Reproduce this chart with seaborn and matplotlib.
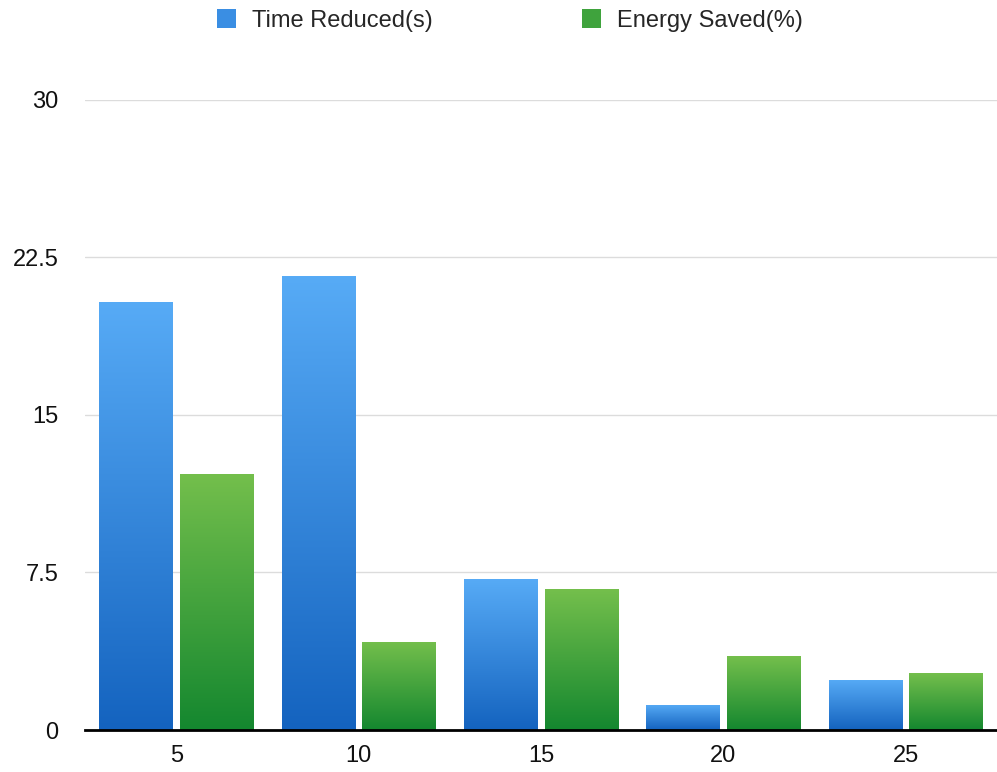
"""
Grouped bar chart: time reduced vs energy saved
"""
import numpy as np
import pandas as pd
import matplotlib
matplotlib.use("Agg")
import matplotlib.pyplot as plt
from matplotlib.colors import LinearSegmentedColormap
from matplotlib.patches import Patch
import seaborn as sns

# Data
groups = ["5", "10", "15", "20", "25"]
time_reduced = [20.4, 21.6, 7.2, 1.2, 2.4]
energy_saved = [12.2, 4.2, 6.7, 3.5, 2.7]
series = ["Time Reduced(s)", "Energy Saved(%)"]
yticks = [0, 7.5, 15, 22.5, 30]
ytick_labels = ["0", "7.5", "15", "22.5", "30"]

df = pd.DataFrame({
    "group": groups * 2,
    "value": time_reduced + energy_saved,
    "series": [series[0]] * len(groups) + [series[1]] * len(groups),
})

sns.set_style("white")
plt.rcParams["font.family"] = ["Liberation Sans", "DejaVu Sans"]

# gradient ends (top, bottom)
grad = {
    series[0]: ("#57abf6", "#1463bf"),
    series[1]: ("#74bf4c", "#14872f"),
}
flat = {series[0]: "#3a8ee3", series[1]: "#3fa33d"}

fig = plt.figure(figsize=(9.97, 7.72), dpi=100)
ax = fig.add_axes([0.0853, 0.0544, 0.9147, 0.8161])

sns.barplot(data=df, x="group", y="value", hue="series", order=groups,
            hue_order=series, palette=flat, width=0.885, gap=0.09,
            legend=False, ax=ax)

# Replace flat fills with vertical gradients, clipped to each bar
n = len(groups)
for i, patch in enumerate(ax.patches[:2 * n]):
    name = series[i // n]
    top, bot = grad[name]
    cmap = LinearSegmentedColormap.from_list(name, [bot, top])
    x0, w, h = patch.get_x(), patch.get_width(), patch.get_height()
    patch.set_facecolor("none")
    patch.set_edgecolor("none")
    img = ax.imshow(np.linspace(0, 1, 256).reshape(-1, 1), cmap=cmap,
                    origin="lower", aspect="auto",
                    extent=[x0, x0 + w, 0, h], zorder=2)
    img.set_clip_path(patch)

ax.set_xlim(-0.5, len(groups) - 0.5)
ax.set_ylim(0, 30)
ax.set_yticks(yticks)
ax.set_yticklabels(ytick_labels)
ax.yaxis.grid(True, color="#dcdcdc", linewidth=1)
ax.set_axisbelow(True)
ax.set_xlabel("")
ax.set_ylabel("")

for side in ["top", "right", "left"]:
    ax.spines[side].set_visible(False)
ax.spines["bottom"].set_color("black")
ax.spines["bottom"].set_linewidth(2)
ax.spines["bottom"].set_zorder(5)
ax.tick_params(axis="both", length=0, labelsize=17, colors="#111111")
ax.tick_params(axis="x", pad=11)
ax.tick_params(axis="y", pad=19)

handles = [Patch(facecolor=flat[s], edgecolor="none") for s in series]
fig.legend(handles, series, loc="center", bbox_to_anchor=(0.5115, 0.974),
           ncol=2, frameon=False, fontsize=17, handlelength=0.8,
           handleheight=0.9, columnspacing=6.3, handletextpad=0.68)

plt.savefig("out.png", dpi=100)
